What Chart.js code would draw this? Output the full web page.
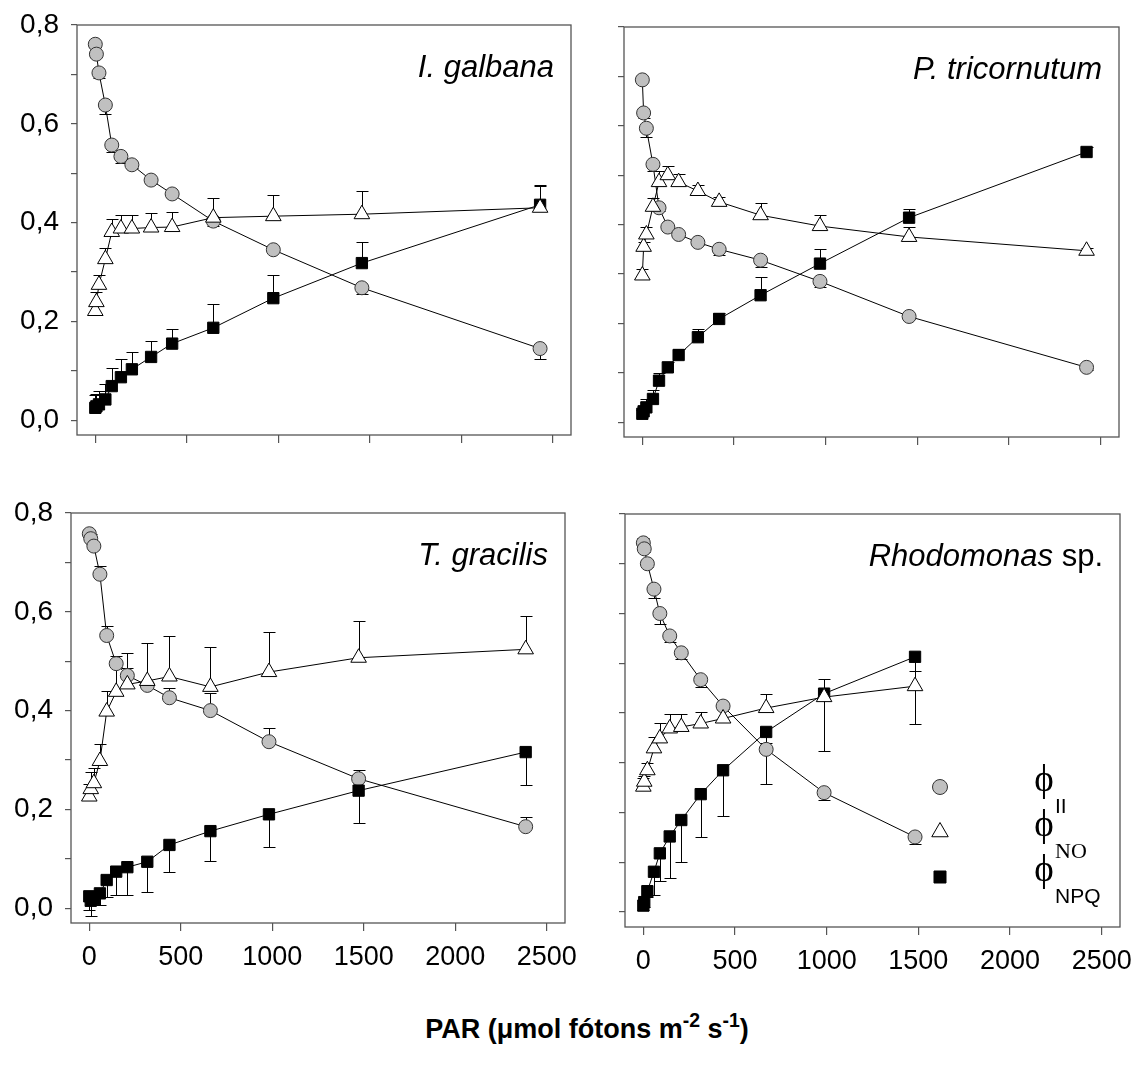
<!DOCTYPE html>
<html>
<head>
<meta charset="utf-8">
<script src="https://cdn.jsdelivr.net/npm/chart.js@4.4.1/dist/chart.umd.min.js"></script>
<style>
  html, body { margin: 0; padding: 0; background: #fff; }
  #page { position: relative; width: 1131px; height: 1068px; overflow: hidden; font-family: "Liberation Sans", Arial, sans-serif; }
  #page canvas { position: absolute; }
  #xtitle { position: absolute; left: 587px; top: 1014px; transform: translateX(-50%); white-space: nowrap;
            font-weight: bold; font-size: 27px; color: #000; }
  #xtitle sup { font-size: 72%; position: relative; top: -0.55em; vertical-align: baseline; }
</style>
</head>
<body>
<div id="page">
  <canvas id="c1"></canvas>
  <canvas id="c2"></canvas>
  <canvas id="c3"></canvas>
  <canvas id="c4"></canvas>
  <div id="xtitle">PAR (μmol fótons m<sup>-2</sup> s<sup>-1</sup>)</div>
</div>
<script>
// eixos
const yTicks = [0, 0.1, 0.2, 0.3, 0.4, 0.5, 0.6, 0.7, 0.8];
const xTicks = [0, 500, 1000, 1500, 2000, 2500];

// I. galbana
const parGalbana = [0, 6, 20, 55, 90, 140, 200, 305, 420, 645, 973, 1457, 2431];
const phiIIGalbana = [0.761, 0.741, 0.703, 0.638, 0.557, 0.534, 0.517, 0.486, 0.458, 0.403, 0.345, 0.268, 0.145];
const phiNOGalbana = [0.221, 0.239, 0.274, 0.326, 0.381, 0.388, 0.388, 0.390, 0.391, 0.410, 0.413, 0.417, 0.430];
const phiNPQGalbana = [0.025, 0.028, 0.032, 0.042, 0.069, 0.087, 0.103, 0.128, 0.155, 0.187, 0.247, 0.318, 0.436];
const errIIGalbana = [-0.005, -0.005, -0.011, -0.018, -0.015, -0.014, -0.006, -0.005, -0.005, -0.010, -0.005, -0.013, -0.021];
const errNOGalbana = [0.012, 0.020, 0.020, 0.023, 0.026, 0.027, 0.027, 0.030, 0.031, 0.039, 0.043, 0.047, 0.045];
const errNPQGalbana = [0.025, 0.025, 0.027, 0.032, 0.036, 0.036, 0.035, 0.032, 0.030, 0.049, 0.046, 0.043, 0.040];

// P. tricornutum
const parTricornutum = [0, 7, 22, 58, 91, 139, 198, 303, 419, 645, 969, 1455, 2423];
const phiIITricornutum = [0.693, 0.626, 0.595, 0.522, 0.434, 0.395, 0.380, 0.364, 0.350, 0.328, 0.285, 0.214, 0.111];
const phiNOTricornutum = [0.297, 0.355, 0.380, 0.436, 0.486, 0.500, 0.486, 0.468, 0.446, 0.419, 0.397, 0.375, 0.347];
const phiNPQTricornutum = [0.017, 0.022, 0.030, 0.047, 0.084, 0.111, 0.136, 0.172, 0.209, 0.257, 0.321, 0.414, 0.547];
const errIITricornutum = [-0.005, -0.011, -0.017, -0.013, -0.006, -0.005, -0.005, -0.005, -0.012, -0.014, -0.011, -0.005, -0.005];
const errNOTricornutum = [0.014, 0.010, 0.015, 0.017, 0.023, 0.018, 0.016, 0.012, 0.009, 0.024, 0.022, 0.020, 0.005];
const errNPQTricornutum = [0.008, 0.010, 0.017, 0.019, 0.016, 0.010, 0.012, 0.016, 0.012, 0.037, 0.030, 0.018, 0.010];

// T. gracilis
const parGracilis = [0, 8, 25, 58, 95, 147, 208, 317, 438, 662, 982, 1472, 2385];
const phiIIGracilis = [0.758, 0.748, 0.733, 0.676, 0.552, 0.495, 0.471, 0.451, 0.426, 0.400, 0.337, 0.262, 0.165];
const phiNOGracilis = [0.226, 0.241, 0.253, 0.298, 0.398, 0.438, 0.453, 0.460, 0.469, 0.448, 0.478, 0.507, 0.524];
const phiNPQGracilis = [0.024, 0.015, 0.018, 0.030, 0.057, 0.074, 0.083, 0.094, 0.128, 0.156, 0.190, 0.238, 0.316];
const errIIGracilis = [0.008, 0.010, 0.005, 0.017, 0.020, 0.015, 0.015, 0.005, 0.019, 0.036, 0.027, 0.018, 0.020];
const errNOGracilis = [0.025, 0.035, 0.030, 0.035, 0.042, 0.050, 0.063, 0.076, 0.083, 0.081, 0.081, 0.074, 0.067];
const errNPQGracilis = [-0.028, -0.030, -0.012, -0.023, -0.035, -0.047, -0.056, -0.062, -0.054, -0.060, -0.066, -0.066, -0.066];

// Rhodomonas sp.
const parRhodomonas = [0, 5, 22, 58, 90, 144, 207, 313, 435, 670, 986, 1482];
const phiIIRhodomonas = [0.742, 0.730, 0.700, 0.649, 0.600, 0.555, 0.521, 0.467, 0.414, 0.327, 0.240, 0.151];
const phiNORhodomonas = [0.252, 0.262, 0.285, 0.329, 0.349, 0.369, 0.372, 0.379, 0.389, 0.410, 0.432, 0.454];
const phiNPQRhodomonas = [0.013, 0.020, 0.042, 0.081, 0.118, 0.152, 0.185, 0.237, 0.285, 0.362, 0.439, 0.513];
const errIIRhodomonas = [0.010, -0.006, -0.006, -0.017, -0.022, -0.013, -0.012, -0.015, 0.006, 0.012, -0.015, -0.015];
const errNORhodomonas = [0.018, 0.012, 0.014, 0.023, 0.031, 0.030, 0.027, 0.023, 0.020, 0.029, 0.036, 0.030];
const errNPQRhodomonas = [-0.008, -0.010, -0.012, -0.046, -0.056, -0.084, -0.084, -0.087, -0.092, -0.105, -0.115, -0.135];

const axisGray = '#555';

// moldura completa do gráfico
const boxPlugin = {
  id: 'panelBox',
  beforeDatasetsDraw(chart) {
    const { ctx, chartArea: a } = chart;
    ctx.save();
    ctx.strokeStyle = axisGray;
    ctx.lineWidth = 1.3;
    ctx.strokeRect(a.left, a.top, a.right - a.left, a.bottom - a.top);
    ctx.restore();
  }
};

// barras de erro (um lado só, positivo = pra cima)
const errorBarPlugin = {
  id: 'errorBars',
  beforeDatasetsDraw(chart) {
    const ctx = chart.ctx, yScale = chart.scales.y;
    ctx.save();
    ctx.strokeStyle = '#000';
    ctx.lineWidth = 1;
    chart.data.datasets.forEach((ds, di) => {
      if (!ds.errors) return;
      const meta = chart.getDatasetMeta(di);
      meta.data.forEach((pt, i) => {
        const e = ds.errors[i];
        if (!e) return;
        const x = Math.round(pt.x) + 0.5;
        const y2 = Math.round(yScale.getPixelForValue(ds.data[i].y + e)) + 0.5;
        ctx.beginPath();
        ctx.moveTo(x, pt.y);
        ctx.lineTo(x, y2);
        ctx.moveTo(x - 6, y2);
        ctx.lineTo(x + 6, y2);
        ctx.stroke();
      });
    });
    ctx.restore();
  }
};

// nome da espécie no canto
const speciesPlugin = {
  id: 'species',
  afterDatasetsDraw(chart, args, opts) {
    if (!opts || !opts.parts) return;
    const { ctx, chartArea: a } = chart;
    ctx.save();
    ctx.fillStyle = '#000';
    ctx.textBaseline = 'alphabetic';
    ctx.textAlign = 'left';
    const fonts = opts.parts.map(p => (p.italic ? 'italic ' : '') + '31px "Liberation Sans", Arial, sans-serif');
    let widths = opts.parts.map((p, i) => { ctx.font = fonts[i]; return ctx.measureText(p.t).width; });
    let x = a.right - 17 - widths.reduce((s, w) => s + w, 0);
    opts.parts.forEach((p, i) => {
      ctx.font = fonts[i];
      ctx.fillText(p.t, x, a.top + 52);
      x += widths[i];
    });
    ctx.restore();
  }
};

// legenda do painel Rhodomonas
const legendPlugin = {
  id: 'phiLegend',
  afterDatasetsDraw(chart, args, opts) {
    if (!opts || !opts.show) return;
    const { ctx, chartArea: a } = chart;
    const mx = a.left + 315;
    const items = [
      { dy: 273, style: 'circle', r: 7.5, fill: '#c0c0c0', stroke: '#333', sub: 'II', subFont: '21px "Liberation Sans", Arial' },
      { dy: 318, style: 'triangle', r: 9.5, fill: '#fff', stroke: '#000', sub: 'NO', subFont: '22px "Liberation Serif", "Times New Roman", serif' },
      { dy: 363, style: 'rect', r: 8.5, fill: '#000', stroke: '#000', sub: 'NPQ', subFont: '21px "Liberation Sans", Arial' }
    ];
    ctx.save();
    items.forEach(it => {
      ctx.fillStyle = it.fill;
      ctx.strokeStyle = it.stroke;
      ctx.lineWidth = 1;
      Chart.helpers.drawPoint(ctx, { pointStyle: it.style, radius: it.r, borderWidth: 1, rotation: 0 }, mx, a.top + it.dy);
      ctx.fillStyle = '#000';
      ctx.font = '37px "Liberation Serif", "Times New Roman", serif';
      ctx.textAlign = 'center';
      ctx.textBaseline = 'middle';
      ctx.fillText('ϕ', a.left + 419, a.top + it.dy - 6);
      ctx.font = it.subFont;
      ctx.textAlign = 'left';
      ctx.fillText(it.sub, a.left + 430, a.top + it.dy + 20);
    });
    ctx.restore();
  }
};

function seriesData(par, vals) {
  return par.map((x, i) => ({ x: x, y: vals[i] }));
}

function buildPanel(canvasId, area, par, ii, no, npq, errII, errNO, errNPQ, extra) {
  const padL = 90, padT = 30, padR = 45, padB = 70;
  const canvas = document.getElementById(canvasId);
  const w = area.r - area.l + padL + padR;
  const h = area.b - area.t + padT + padB;
  canvas.width = w;
  canvas.height = h;
  canvas.style.width = w + 'px';
  canvas.style.height = h + 'px';
  canvas.style.left = (area.l - padL) + 'px';
  canvas.style.top = (area.t - padT) + 'px';

  new Chart(canvas, {
    type: 'line',
    data: {
      datasets: [
        {
          label: 'ϕII', data: seriesData(par, ii), errors: errII, order: 2,
          borderColor: '#000', borderWidth: 1, tension: 0,
          pointStyle: 'circle', pointRadius: 7, pointBackgroundColor: '#c0c0c0',
          pointBorderColor: '#333', pointBorderWidth: 1
        },
        {
          label: 'ϕNPQ', data: seriesData(par, npq), errors: errNPQ, order: 1,
          borderColor: '#000', borderWidth: 1, tension: 0,
          pointStyle: 'rect', pointRadius: 8, pointBackgroundColor: '#000',
          pointBorderColor: '#000', pointBorderWidth: 1
        },
        {
          label: 'ϕNO', data: seriesData(par, no), errors: errNO, order: 0,
          borderColor: '#000', borderWidth: 1, tension: 0,
          pointStyle: 'triangle', pointRadius: 9, pointBackgroundColor: '#fff',
          pointBorderColor: '#000', pointBorderWidth: 1
        }
      ]
    },
    options: {
      responsive: false,
      animation: false,
      layout: { padding: { left: 0, top: padT, right: padR, bottom: 0 } },
      plugins: {
        legend: { display: false },
        tooltip: { enabled: false },
        species: { parts: extra.species },
        phiLegend: { show: !!extra.legend }
      },
      scales: {
        x: {
          type: 'linear', min: -100, max: 2600,
          afterFit: s => { s.height = padB; },
          afterBuildTicks: s => { s.ticks = xTicks.map(v => ({ value: v })); },
          grid: { drawOnChartArea: false, drawTicks: true, tickLength: 8, color: axisGray, tickColor: axisGray, lineWidth: 1.2 },
          border: { display: false },
          ticks: {
            display: !!extra.xLabels, autoSkip: false, maxRotation: 0, padding: 10, color: '#000',
            font: { family: '"Liberation Sans", Arial, sans-serif', size: 27 },
            callback: v => String(v)
          }
        },
        y: {
          type: 'linear', min: -0.03, max: 0.8,
          afterFit: s => { s.width = padL; },
          afterBuildTicks: s => { s.ticks = yTicks.map(v => ({ value: v })); },
          grid: { drawOnChartArea: false, drawTicks: true, tickLength: 6, color: axisGray, tickColor: axisGray, lineWidth: 1.2 },
          border: { display: false },
          ticks: {
            display: !!extra.yLabels, autoSkip: false, padding: 12, color: '#000',
            font: { family: '"Liberation Sans", Arial, sans-serif', size: 28 },
            callback: v => (Math.round(v * 10) % 2 === 0) ? v.toFixed(1).replace('.', ',') : ''
          }
        }
      }
    },
    plugins: [boxPlugin, errorBarPlugin, speciesPlugin, legendPlugin]
  });
}

buildPanel('c1', { l: 77, t: 25, r: 571, b: 435 }, parGalbana,
  phiIIGalbana, phiNOGalbana, phiNPQGalbana, errIIGalbana, errNOGalbana, errNPQGalbana,
  { species: [{ t: 'I. galbana', italic: true }], yLabels: true, xLabels: false });

buildPanel('c2', { l: 624, t: 27, r: 1119, b: 437 }, parTricornutum,
  phiIITricornutum, phiNOTricornutum, phiNPQTricornutum, errIITricornutum, errNOTricornutum, errNPQTricornutum,
  { species: [{ t: 'P. tricornutum', italic: true }], yLabels: false, xLabels: false });

buildPanel('c3', { l: 71, t: 513, r: 565, b: 923 }, parGracilis,
  phiIIGracilis, phiNOGracilis, phiNPQGracilis, errIIGracilis, errNOGracilis, errNPQGracilis,
  { species: [{ t: 'T. gracilis', italic: true }], yLabels: true, xLabels: true });

buildPanel('c4', { l: 625, t: 514, r: 1120, b: 927 }, parRhodomonas,
  phiIIRhodomonas, phiNORhodomonas, phiNPQRhodomonas, errIIRhodomonas, errNORhodomonas, errNPQRhodomonas,
  { species: [{ t: 'Rhodomonas', italic: true }, { t: ' sp.', italic: false }], yLabels: false, xLabels: true, legend: true });
</script>
</body>
</html>
